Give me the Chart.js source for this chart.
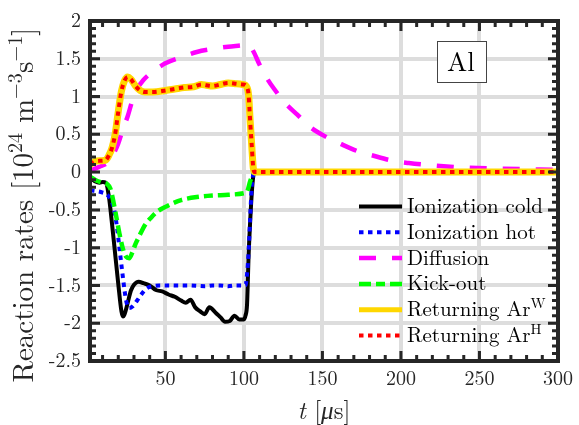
<!DOCTYPE html>
<html>
<head>
<meta charset="utf-8">
<script src="https://cdn.jsdelivr.net/npm/chart.js@4.4.0/dist/chart.umd.min.js"></script>
<style>
    html, body { margin: 0; padding: 0; background: #ffffff; }
    canvas { display: block; }
</style>
</head>
<body>
<canvas id="ratesChart" width="579" height="425"></canvas>
<script>

const xTicks = [50, 100, 150, 200, 250, 300];
const yTicks = [-2.5, -2, -1.5, -1, -0.5, 0, 0.5, 1, 1.5, 2];

// Ionization cold
const coldT = [2, 5, 8, 10, 12, 14, 16, 18, 20, 22, 23, 24, 26, 28, 30, 33, 36, 40, 44, 48,
    52, 56, 60, 63, 66, 69, 72, 75, 78, 82, 85, 88, 91, 94, 97, 100, 101, 102, 103, 104,
    105, 106, 107, 300];
const coldRate = [-0.08, -0.12, -0.14, -0.13, -0.14, -0.32, -0.68, -1.08, -1.48, -1.84, -1.91, -1.88, -1.73, -1.57, -1.49, -1.45, -1.47, -1.50, -1.56, -1.58,
    -1.62, -1.65, -1.70, -1.73, -1.69, -1.79, -1.84, -1.88, -1.79, -1.86, -1.92, -1.98, -1.97, -1.90, -1.95, -1.95, -1.90, -1.75, -1.10, -0.65,
    -0.28, -0.05, 0, 0];

// Ionization hot
const hotT = [2, 6, 10, 13, 15, 17, 19, 21, 23, 25, 27, 29, 32, 35, 38, 42, 46, 55, 65, 75,
    80, 85, 90, 95, 101, 102, 103, 104, 105, 106, 107, 300];
const hotRate = [-0.24, -0.25, -0.27, -0.30, -0.36, -0.46, -0.70, -1.05, -1.40, -1.70, -1.80, -1.78, -1.70, -1.61, -1.54, -1.51, -1.50, -1.50, -1.50, -1.51,
    -1.50, -1.50, -1.51, -1.50, -1.50, -1.35, -1.05, -0.60, -0.19, -0.03, 0, 0];

// Diffusion
const diffT = [2, 8, 14, 17, 20, 23, 26, 29, 32, 36, 42, 50, 60, 70, 80, 90, 100, 103, 106, 110,
    115, 120, 126, 134, 142, 152, 162, 172, 182, 195, 205, 220, 240, 265, 300];
const diffRate = [0.02, 0.07, 0.14, 0.24, 0.38, 0.57, 0.74, 0.95, 1.10, 1.22, 1.33, 1.44, 1.52, 1.59, 1.63, 1.66, 1.68, 1.69, 1.60, 1.42,
    1.23, 1.08, 0.92, 0.76, 0.60, 0.47, 0.37, 0.28, 0.22, 0.15, 0.12, 0.09, 0.06, 0.045, 0.03];

// Kick-out
const kickT = [2, 6, 10, 13, 15, 17, 19, 21, 23, 25, 27, 29, 31, 34, 37, 41, 45, 50, 55, 60,
    70, 80, 90, 100, 102, 104, 106, 107, 300];
const kickRate = [-0.06, -0.11, -0.14, -0.16, -0.22, -0.40, -0.62, -0.84, -1.02, -1.12, -1.14, -1.06, -0.95, -0.82, -0.70, -0.60, -0.52, -0.46, -0.41, -0.37,
    -0.33, -0.31, -0.30, -0.28, -0.26, -0.12, -0.02, 0, 0];

// Returning Ar (W and H lie on top of each other)
const returnT = [2, 5, 9, 12, 14, 16, 18, 20, 22, 24, 26, 28, 31, 34, 37, 42, 50, 56, 62, 68,
    73, 76, 80, 85, 90, 95, 99, 101, 102, 103, 104, 105, 106, 107, 300];
const returnRate = [0.10, 0.14, 0.15, 0.16, 0.22, 0.32, 0.50, 0.80, 1.07, 1.21, 1.26, 1.23, 1.14, 1.08, 1.06, 1.06, 1.08, 1.10, 1.12, 1.13,
    1.16, 1.15, 1.14, 1.16, 1.18, 1.17, 1.16, 1.15, 1.12, 1.02, 0.67, 0.35, 0.05, 0, 0];

const legendNames = ['Ionization cold', 'Ionization hot', 'Diffusion', 'Kick-out', 'Returning Ar', 'Returning Ar'];
const legendSup = ['', '', '', '', 'W', 'H'];

const SERIF = '"Latin Modern Roman", "Liberation Serif", serif';
const AXIS_COLOR = '#262626';

function points(ts, vs) {
    return ts.map((t, i) => ({ x: t, y: vs[i] }));
}

function lineSet(i, ts, vs, color, width, dash, order) {
    return {
        label: legendNames[i] + legendSup[i],
        data: points(ts, vs),
        borderColor: color,
        borderWidth: width,
        borderDash: dash,
        borderCapStyle: 'butt',
        borderJoinStyle: 'round',
        cubicInterpolationMode: 'monotone',
        pointRadius: 0,
        fill: false,
        order: order
    };
}

// text made of pieces, some raised as superscripts
function richWidth(ctx, parts, size) {
    let w = 0;
    parts.forEach(p => {
        const s = p.sup ? size * 0.7 : size;
        ctx.font = (p.it ? 'italic ' : '') + s + 'px ' + SERIF;
        w += ctx.measureText(p.t).width;
    });
    return w;
}

function drawRich(ctx, parts, x, y, size) {
    let cx = x;
    ctx.textAlign = 'left';
    ctx.textBaseline = 'alphabetic';
    parts.forEach(p => {
        const s = p.sup ? size * 0.7 : size;
        ctx.font = (p.it ? 'italic ' : '') + s + 'px ' + SERIF;
        ctx.fillText(p.t, cx, p.sup ? y - size * 0.38 : y);
        cx += ctx.measureText(p.t).width;
    });
}

const boxPlugin = {
    id: 'matlabBox',
    afterDatasetsDraw(chart) {
        const { ctx, chartArea: a, scales } = chart;
        const x = scales.x, y = scales.y;
        ctx.save();
        ctx.strokeStyle = AXIS_COLOR;
        ctx.lineWidth = 3;
        ctx.beginPath();
        for (let t = 10; t < 300; t += 10) {
            const px = x.getPixelForValue(t);
            const len = t % 50 === 0 ? 10 : 6;
            ctx.moveTo(px, a.bottom); ctx.lineTo(px, a.bottom - len);
            ctx.moveTo(px, a.top); ctx.lineTo(px, a.top + len);
        }
        for (let k = -24; k < 20; k++) {
            const py = y.getPixelForValue(k / 10);
            const len = k % 5 === 0 ? 10 : 6;
            ctx.moveTo(a.left, py); ctx.lineTo(a.left + len, py);
            ctx.moveTo(a.right, py); ctx.lineTo(a.right - len, py);
        }
        ctx.stroke();
        ctx.lineWidth = 4;
        ctx.strokeRect(a.left, a.top, a.right - a.left, a.bottom - a.top);
        ctx.restore();
    }
};

const labelPlugin = {
    id: 'labels',
    afterDraw(chart) {
        const { ctx, chartArea: a } = chart;
        ctx.save();
        ctx.fillStyle = AXIS_COLOR;

        // y title
        const yParts = [
            { t: 'Reaction rates [10' }, { t: '24', sup: true },
            { t: ' m' }, { t: '\u22123', sup: true },
            { t: 's' }, { t: '\u22121', sup: true }, { t: ']' }
        ];
        const ySize = 29;
        ctx.save();
        ctx.translate(33, 205);
        ctx.rotate(-Math.PI / 2);
        drawRich(ctx, yParts, -richWidth(ctx, yParts, ySize) / 2, 0, ySize);
        ctx.restore();

        // x title
        const xParts = [{ t: 't', it: true }, { t: ' [' }, { t: '\u03bc', it: true }, { t: 's]' }];
        const xSize = 25;
        drawRich(ctx, xParts, (a.left + a.right) / 2 - richWidth(ctx, xParts, xSize) / 2, 419, xSize);

        // legend
        const sets = chart.data.datasets;
        ctx.fillStyle = '#000000';
        legendNames.forEach((name, i) => {
            const ds = sets[i];
            const ly = 206.5 + i * 25.8;
            ctx.save();
            ctx.strokeStyle = ds.borderColor;
            ctx.lineWidth = i === 4 ? 5 : ds.borderWidth;
            ctx.setLineDash(ds.borderDash || []);
            ctx.lineCap = 'butt';
            ctx.beginPath();
            ctx.moveTo(359, ly);
            ctx.lineTo(402, ly);
            ctx.stroke();
            ctx.restore();
            const parts = [{ t: name }];
            if (legendSup[i]) parts.push({ t: legendSup[i], sup: true });
            drawRich(ctx, parts, 407, ly + 6.5, 21);
        });

        // material tag
        ctx.fillStyle = '#ffffff';
        ctx.fillRect(437, 41, 49, 41);
        ctx.strokeStyle = '#444444';
        ctx.lineWidth = 1;
        ctx.strokeRect(437.5, 41.5, 49, 41);
        ctx.fillStyle = '#000000';
        ctx.font = '27px ' + SERIF;
        ctx.textAlign = 'center';
        ctx.textBaseline = 'alphabetic';
        ctx.fillText('Al', 461, 70.5);
        ctx.restore();
    }
};

new Chart(
    document.getElementById('ratesChart').getContext('2d'),
    {
        type: 'line',
        data: {
            datasets: [
                lineSet(0, coldT, coldRate, '#000000', 4, [], 6),
                lineSet(1, hotT, hotRate, '#0000ff', 4, [4.5, 4.5], 5),
                lineSet(2, diffT, diffRate, '#ff00ff', 4.5, [17, 16], 4),
                lineSet(3, kickT, kickRate, '#00ff00', 4.5, [12, 5, 9, 5], 3),
                lineSet(4, returnT, returnRate, '#ffd700', 7, [], 2),
                lineSet(5, returnT, returnRate, '#ff0000', 4, [4.5, 4.5], 1)
            ]
        },
        options: {
            responsive: false,
            animation: false,
            devicePixelRatio: 1,
            layout: { padding: { top: 12, right: 17, left: 0, bottom: 0 } },
            plugins: {
                legend: { display: false },
                tooltip: { enabled: false }
            },
            scales: {
                x: {
                    type: 'linear',
                    min: 2,
                    max: 300,
                    afterBuildTicks: scale => { scale.ticks = xTicks.map(v => ({ value: v })); },
                    afterFit: scale => { scale.height = 64; },
                    border: { display: false },
                    grid: { color: '#dddddd', lineWidth: 4, drawTicks: false },
                    ticks: {
                        color: AXIS_COLOR,
                        padding: 6,
                        maxRotation: 0,
                        font: { family: SERIF, size: 20 },
                        callback: v => String(v)
                    }
                },
                y: {
                    min: -2.5,
                    max: 2,
                    afterBuildTicks: scale => { scale.ticks = yTicks.map(v => ({ value: v })); },
                    afterFit: scale => { scale.width = 90; },
                    border: { display: false },
                    grid: { color: '#dddddd', lineWidth: 4, drawTicks: false },
                    ticks: {
                        color: AXIS_COLOR,
                        padding: 9,
                        font: { family: SERIF, size: 20 },
                        callback: v => String(v)
                    }
                }
            }
        },
        plugins: [boxPlugin, labelPlugin]
    }
);
</script>
</body>
</html>
